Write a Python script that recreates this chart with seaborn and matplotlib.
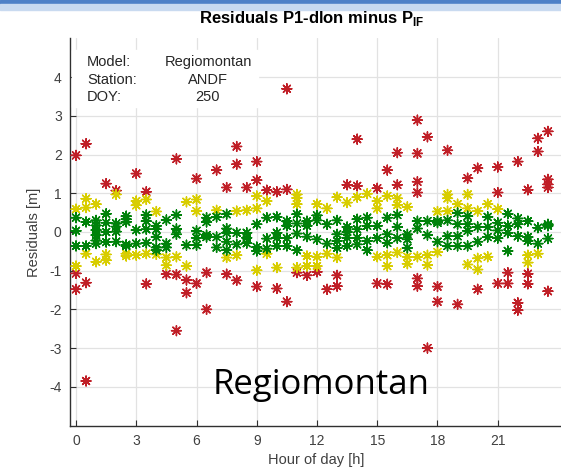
import numpy as np
import pandas as pd
import matplotlib
matplotlib.use("Agg")
import matplotlib.pyplot as plt
import seaborn as sns
from matplotlib.patches import Rectangle

# epochs (hour of day) and residuals read per epoch
hours = [0.0, 0.5, 1.0, 1.5, 2.0, 2.5, 3.0, 3.5, 4.0, 4.5, 5.0, 5.5,
         6.0, 6.5, 7.0, 7.5, 8.0, 8.5, 9.0, 9.5, 10.0, 10.5, 11.0, 11.5,
         12.0, 12.5, 13.0, 13.5, 14.0, 14.5, 15.0, 15.5, 16.0, 16.5, 17.0, 17.5,
         18.0, 18.5, 19.0, 19.5, 20.0, 20.5, 21.0, 21.5, 22.0, 22.5, 23.0, 23.5]

residuals = [
    [1.98, 0.59, 0.37, 0.03, -0.36, -0.88, -1.07, -1.48],
    [2.28, 0.86, 0.63, 0.26, -0.36, -0.56, -1.31, -3.85],
    [0.72, 0.3, 0.17, 0.05, -0.08, -0.22, -0.3, -0.77],
    [1.25, 0.47, 0.24, 0.0, -0.26, -0.58, -0.73],
    [1.07, 0.97, 0.22, 0.14, 0.01, -0.25],
    [0.41, 0.33, 0.26, -0.33, -0.36, -0.56, -0.62],
    [1.51, 0.8, 0.69, 0.05, -0.3, -0.6],
    [1.04, 0.84, 0.44, 0.28, 0.07, -0.28, -0.56, -1.34],
    [0.53, 0.16, 0.07, -0.13, -0.4, -0.47, -0.58],
    [0.31, -0.3, -0.4, -0.66, -0.86, -1.09],
    [1.89, 0.44, 0.08, -0.06, -0.64, -1.1, -2.55],
    [0.78, -0.34, -0.88, -1.24, -1.57],
    [1.38, 0.84, 0.54, 0.03, -0.15, -0.34, -1.33],
    [0.37, 0.26, -0.08, -0.13, -1.05, -2.0],
    [1.6, 0.56, 0.39, -0.13, -0.4],
    [1.15, 0.46, 0.09, -0.02, -0.25, -0.47, -0.66, -1.09],
    [2.21, 1.75, 0.54, -0.02, -0.32, -0.6, -1.25],
    [1.15, 0.56, -0.02, -0.15, -0.29],
    [1.82, 1.34, 0.93, 0.61, 0.2, -0.39, -0.49, -0.99, -1.41],
    [1.08, 0.8, 0.37, -0.17, -0.43, -0.56],
    [1.04, 0.39, -0.02, -0.15, -0.36, -0.92, -1.46],
    [3.7, 1.1, 0.28, 0.16, -0.16, -0.36, -1.8],
    [0.97, 0.88, 0.72, 0.46, 0.22, -0.04, -0.47, -0.92, -1.05],
    [0.28, 0.16, -0.12, -0.62, -0.88, -1.12],
    [0.72, 0.43, 0.3, -0.19, -0.64, -0.88, -1.03],
    [0.61, 0.2, -0.3, -0.56, -1.48],
    [0.9, 0.3, -0.06, -0.23, -0.41, -0.66, -1.12, -1.4],
    [1.22, 0.76, 0.13, 0.0, -0.15, -0.36],
    [2.4, 1.19, 0.9, 0.33, 0.07, -0.15, -0.32],
    [0.99, 0.37, 0.16, -0.23, -0.47],
    [1.13, 0.8, 0.61, 0.16, -0.16, -0.64, -1.33],
    [1.6, 0.93, 0.37, -0.06, -0.28, -0.6, -0.88, -1.35],
    [2.05, 1.22, 0.87, 0.7, 0.44, 0.13, -0.16, -0.53],
    [0.65, -0.06, -0.19, -0.41, -0.64, -0.82],
    [2.89, 2.03, 1.3, 1.02, 0.28, 0.09, -0.64, -1.2, -1.4],
    [2.46, 0.28, -0.08, -0.6, -0.85, -3.0],
    [0.53, 0.28, 0.24, -0.25, -0.52, -1.41, -1.8],
    [2.11, 0.97, 0.87, 0.54, 0.3, -0.11, -0.36],
    [0.72, 0.49, 0.2, -0.11, -0.36, -1.87],
    [1.39, 0.97, 0.61, 0.41, 0.2, 0.03, -0.36, -0.84],
    [1.65, 0.54, 0.13, -0.25, -0.68, -0.97, -1.48],
    [0.72, 0.39, 0.13, -0.13, -0.64],
    [1.68, 1.02, 0.59, 0.24, 0.04, -0.16, -1.33],
    [0.47, 0.16, -0.02, -0.49, -1.05, -1.33],
    [1.82, 0.35, 0.2, -0.11, -1.83, -2.02],
    [1.09, 0.28, -0.13, -0.23, -0.6, -0.79, -1.08, -1.34],
    [2.42, 2.08, 0.11, -0.3, -0.56],
    [2.6, 1.36, 1.23, 1.15, 0.2, 0.16, -0.17, -1.53],
]

classes = ["red", "yellow", "green"]
class_colors = ["#c01f27", "#d8cd00", "#00820a"]

info_keys = ["Model:", "Station:", "DOY:"]
info_vals = ["Regiomontan", "ANDF", "250"]


def classify(v):
    if abs(v) < 0.5:
        return "green"
    elif abs(v) < 1.0:
        return "yellow"
    return "red"


rows = []
for h, vals in zip(hours, residuals):
    for v in vals:
        rows.append((h, v, classify(v)))
df = pd.DataFrame(rows, columns=["hour", "res", "cls"])
df["order"] = df["cls"].map({c: i for i, c in enumerate(classes)})
df = df.sort_values("order", kind="stable")

sns.set_theme(style="whitegrid")
plt.rcParams["font.family"] = ["Liberation Sans", "DejaVu Sans"]
plt.rcParams["axes.unicode_minus"] = False
plt.rcParams["mathtext.fontset"] = "custom"
plt.rcParams["mathtext.bf"] = "Liberation Sans:bold"
plt.rcParams["mathtext.rm"] = "Liberation Sans"

W, H = 561, 473
fig = plt.figure(figsize=(W / 100, H / 100), dpi=100)
fig.patch.set_facecolor("white")

# blue strip of the slide at the top
fig.patches.append(Rectangle((0, 1 - 4 / H), 1, 4 / H, transform=fig.transFigure,
                             color="#4f81c7", zorder=0))
fig.patches.append(Rectangle((0, 1 - 10 / H), 1, 6 / H, transform=fig.transFigure,
                             color="#c9daf0", zorder=0))

ax = fig.add_axes([70 / W, 1 - 425.5 / H, (W - 69) / W, 387 / H])
ax.set_facecolor("white")

sns.scatterplot(data=df, x="hour", y="res", hue="cls", hue_order=classes,
                palette=class_colors, marker=(8, 2, 0), s=50, linewidth=1.05,
                legend=False, ax=ax, zorder=3)

ax.set_xlim(-0.3, 24.2)
ax.set_ylim(-5, 5)
ax.set_xticks([0, 3, 6, 9, 12, 15, 18, 21])
ax.set_yticks([-4, -3, -2, -1, 0, 1, 2, 3, 4])
ax.grid(True, color="#e2e2e2", linewidth=0.9)
ax.set_axisbelow(True)
for s in ["top", "right"]:
    ax.spines[s].set_visible(False)
for s in ["left", "bottom"]:
    ax.spines[s].set_visible(True)
    ax.spines[s].set_color("#303030")
    ax.spines[s].set_linewidth(1.0)
ax.tick_params(direction="in", length=4, width=0.8, color="#303030",
               labelsize=10, labelcolor="#404040", pad=6,
               left=True, bottom=True)
ax.set_xlabel("Hour of day [h]", fontsize=10.5, color="#404040", labelpad=4)
ax.set_ylabel("Residuals [m]", fontsize=10.5, color="#404040", labelpad=6)

fig.text(312 / W, 1 - 19 / H, r"Residuals P1-dlon minus P$_\mathbf{IF}$",
         ha="center", va="center", fontsize=12, fontweight="bold", color="black")

# info box
fig.patches.append(Rectangle((72 / W, 1 - 107 / H), 186 / W, 57 / H,
                             transform=fig.transFigure, color="white", zorder=2))
for i, (k, v) in enumerate(zip(info_keys, info_vals)):
    yy = 1 - (62 + 17.5 * i) / H
    fig.text(87 / W, yy, k, ha="left", va="center", fontsize=10.5, color="#262626", zorder=3)
    fig.text(208 / W, yy, v, ha="center", va="center", fontsize=10.5, color="#262626", zorder=3)

ax.text(0.51, 0.105, "Regiomontan", transform=ax.transAxes, ha="center",
        va="center", fontsize=25, color="black", family=["Open Sans", "DejaVu Sans"],
        zorder=4)

fig.savefig("out.png", dpi=100)
